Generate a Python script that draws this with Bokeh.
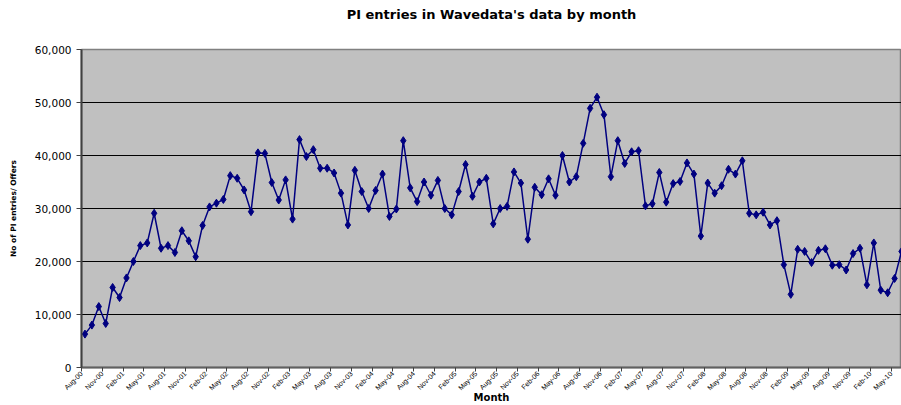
import math
from bokeh.plotting import figure
from bokeh.models import Range1d, FixedTicker, NumeralTickFormatter, ColumnDataSource, Title
from bokeh.embed import file_html
from bokeh.resources import INLINE

# Monthly PI entries, Aug-00 .. Jun-10
values = [
    6300, 8000, 11500, 8300, 15100, 13200, 16900, 20000, 23000, 23500,
    29100, 22500, 23000, 21700, 25800, 23900, 20900, 26800, 30300, 31000,
    31700, 36200, 35700, 33500, 29400, 40500, 40400, 34900, 31600, 35400,
    28000, 43000, 39800, 41100, 37600, 37600, 36700, 32900, 26900, 37200,
    33200, 30000, 33400, 36500, 28500, 29900, 42800, 33900, 31300, 35000,
    32500, 35300, 30000, 28800, 33200, 38300, 32300, 35000, 35700, 27100,
    30000, 30400, 36900, 34800, 24200, 34000, 32600, 35600, 32500, 40000,
    35000, 36000, 42300, 48900, 51000, 47700, 36000, 42800, 38500, 40700,
    40900, 30500, 30900, 36800, 31200, 34700, 35100, 38600, 36500, 24800,
    34800, 32900, 34300, 37400, 36500, 39000, 29100, 28800, 29300, 26900,
    27700, 19400, 13800, 22300, 21900, 19800, 22100, 22400, 19300, 19400,
    18400, 21500, 22500, 15600, 23500, 14600, 14100, 16800, 21900,
]
month_index = list(range(len(values)))

tick_labels = [
    "Aug-00", "Nov-00", "Feb-01", "May-01", "Aug-01", "Nov-01", "Feb-02", "May-02",
    "Aug-02", "Nov-02", "Feb-03", "May-03", "Aug-03", "Nov-03", "Feb-04", "May-04",
    "Aug-04", "Nov-04", "Feb-05", "May-05", "Aug-05", "Nov-05", "Feb-06", "May-06",
    "Aug-06", "Nov-06", "Feb-07", "May-07", "Aug-07", "Nov-07", "Feb-08", "May-08",
    "Aug-08", "Nov-08", "Feb-09", "May-09", "Aug-09", "Nov-09", "Feb-10", "May-10",
]
y_ticks = [0, 10000, 20000, 30000, 40000, 50000, 60000]

source = ColumnDataSource(dict(x=month_index, y=values))

p = figure(width=901, height=405, output_backend="svg", toolbar_location=None,
           x_range=Range1d(-0.5, 118.0), y_range=Range1d(0, 60000),
           title_location=None,
           min_border_left=81, min_border_right=0, min_border_top=0, min_border_bottom=0)

# spacer (closest to frame) then the real title
p.add_layout(Title(text=" ", standoff=20, text_font_size="1px"), "above")
p.add_layout(Title(text="PI entries in Wavedata's data by month", align="center",
                   text_font="DejaVu Sans", text_font_size="13px",
                   text_font_style="bold", text_color="black", standoff=9), "above")

p.background_fill_color = "#C0C0C0"
p.border_fill_color = "white"
p.outline_line_color = "#808080"
p.outline_line_width = 1.5

# grid
p.xgrid.grid_line_color = None
p.ygrid.grid_line_color = "black"
p.ygrid.grid_line_width = 1

# y axis
p.yaxis.ticker = FixedTicker(ticks=y_ticks)
p.yaxis.formatter = NumeralTickFormatter(format="0,0")
p.yaxis.major_label_text_font = "DejaVu Sans"
p.yaxis.major_label_text_font_size = "10.5px"
p.yaxis.major_label_text_color = "black"
p.yaxis.major_label_standoff = 5
p.yaxis.major_tick_in = 0
p.yaxis.major_tick_out = 5
p.yaxis.minor_tick_line_color = None
p.yaxis.axis_line_color = "#404040"
p.yaxis.axis_line_width = 2
p.yaxis.major_tick_line_color = "#404040"
p.yaxis.axis_label = "No of PI entries/ Offers"
p.yaxis.axis_label_text_font = "DejaVu Sans"
p.yaxis.axis_label_text_font_size = "7.5px"
p.yaxis.axis_label_text_font_style = "bold"
p.yaxis.axis_label_text_color = "black"
p.yaxis.axis_label_standoff = 14

# x axis: ticks at category boundaries
tick_pos = [-0.5 + 3 * i for i in range(len(tick_labels))]
p.xaxis.ticker = FixedTicker(ticks=tick_pos)
p.xaxis.major_label_overrides = {t: lab for t, lab in zip(tick_pos, tick_labels)}
p.xaxis.major_label_orientation = math.pi / 4
p.xaxis.major_label_text_font = "Liberation Sans"
p.xaxis.major_label_text_font_size = "7px"
p.xaxis.major_label_text_color = "black"
p.xaxis.major_label_text_line_height = 0.8
p.xaxis.major_label_standoff = 1
p.xaxis.major_tick_in = 0
p.xaxis.major_tick_out = 4
p.xaxis.minor_tick_line_color = None
p.xaxis.axis_line_color = "#606060"
p.xaxis.axis_line_width = 2
p.xaxis.major_tick_line_color = "#404040"
p.xaxis.axis_label = "Month"
p.xaxis.axis_label_text_font = "DejaVu Sans"
p.xaxis.axis_label_text_font_size = "10px"
p.xaxis.axis_label_text_font_style = "bold"
p.xaxis.axis_label_text_color = "black"
p.xaxis.axis_label_text_line_height = 0.8
p.xaxis.axis_label_standoff = -5

p.line("x", "y", source=source, line_color="#000080", line_width=1.5)
p.scatter("x", "y", source=source, marker="diamond", size=8,
          fill_color="#000080", line_color="#000080")

open("out.html", "w").write(file_html(p, INLINE))
